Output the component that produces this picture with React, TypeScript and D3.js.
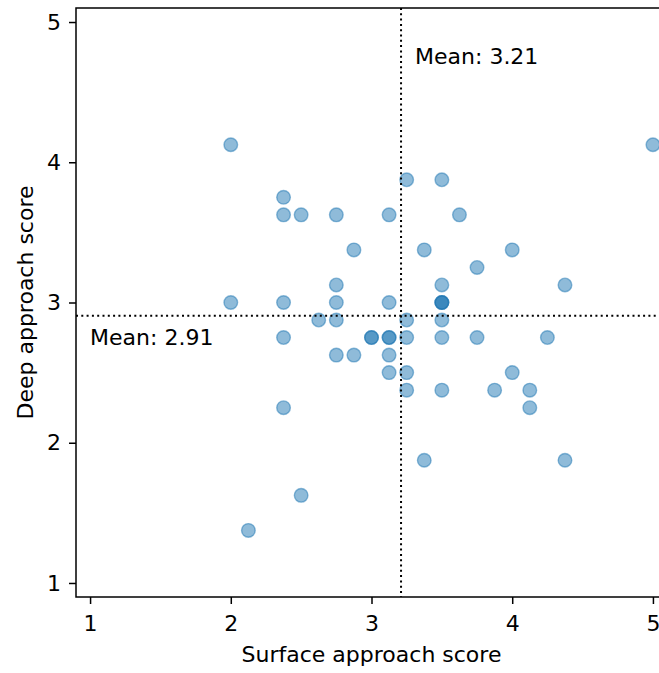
import { useEffect, useRef } from 'react';
import * as d3 from 'd3';

// surface / deep approach scores, one entry per student (repeats are overlapping dots)
const surfaceScores = [
  2, 5, 2.375, 3.25, 3.5, 2.375, 2.5, 2.75, 3.125, 3.625,
  2.875, 3.375, 4, 3.75, 2.75, 3.5, 4.375, 2, 2.375, 2.75,
  3.125, 3.5, 3.5, 3.5, 2.625, 2.75, 3.25, 3.5, 2.375, 3, 3,
  3.125, 3.125, 3.25, 3.5, 3.75, 4.25, 2.75, 2.875, 3.125, 3.125,
  3.25, 4, 3.25, 3.5, 3.875, 4.125, 2.375, 4.125, 3.375, 4.375,
  2.5, 2.125,
];
const deepScores = [
  4.125, 4.125, 3.75, 3.875, 3.875, 3.625, 3.625, 3.625, 3.625, 3.625,
  3.375, 3.375, 3.375, 3.25, 3.125, 3.125, 3.125, 3, 3, 3,
  3, 3, 3, 3, 2.875, 2.875, 2.875, 2.875, 2.75, 2.75, 2.75,
  2.75, 2.75, 2.75, 2.75, 2.75, 2.75, 2.625, 2.625, 2.625, 2.5,
  2.5, 2.5, 2.375, 2.375, 2.375, 2.375, 2.25, 2.25, 1.875, 1.875,
  1.625, 1.375,
];
const tickValues = [1, 2, 3, 4, 5];

function App() {
  const svgRef = useRef<SVGSVGElement>(null);

  useEffect(() => {
    if (!svgRef.current) return;
    const svg = d3.select(svgRef.current);
    svg.selectAll('*').remove();

    const width = 659;
    const height = 673;
    const left = 76, top = 8, right = 667, bottom = 597;
    const font = 'DejaVu Sans, sans-serif';
    const blue = '#1f77b4';

    const x = d3.scaleLinear().domain([0.9, 5.1]).range([left, right]);
    const y = d3.scaleLinear().domain([0.9, 5.1]).range([bottom, top]);

    svg.attr('width', width).attr('height', height);

    const points = surfaceScores.map((s, i) => ({ s, d: deepScores[i] }));
    const meanS = d3.mean(surfaceScores) || 0;
    const meanD = d3.mean(deepScores) || 0;

    // dots
    svg.append('g')
      .selectAll('circle')
      .data(points)
      .enter()
      .append('circle')
      .attr('cx', p => x(p.s))
      .attr('cy', p => y(p.d))
      .attr('r', 6.8)
      .attr('fill', blue)
      .attr('fill-opacity', 0.5)
      .attr('stroke', blue)
      .attr('stroke-opacity', 0.5)
      .attr('stroke-width', 1.4);

    // mean lines
    svg.append('line')
      .attr('x1', x(meanS)).attr('x2', x(meanS))
      .attr('y1', top).attr('y2', bottom)
      .attr('stroke', '#000').attr('stroke-width', 2)
      .attr('stroke-dasharray', '2,3.3');
    svg.append('line')
      .attr('x1', left).attr('x2', right)
      .attr('y1', y(meanD)).attr('y2', y(meanD))
      .attr('stroke', '#000').attr('stroke-width', 2)
      .attr('stroke-dasharray', '2,3.3');

    svg.append('text')
      .attr('x', x(meanS) + 14)
      .attr('y', 64)
      .attr('font-family', font).attr('font-size', 22)
      .text(`Mean: ${meanS.toFixed(2)}`);
    svg.append('text')
      .attr('x', x(1))
      .attr('y', y(meanD) + 29)
      .attr('font-family', font).attr('font-size', 22)
      .text(`Mean: ${meanD.toFixed(2)}`);

    // axes
    const xAxis = svg.append('g')
      .attr('transform', `translate(0,${bottom})`)
      .call(d3.axisBottom(x).tickValues(tickValues).tickFormat(d3.format('d')).tickSize(7).tickPadding(11));
    const yAxis = svg.append('g')
      .attr('transform', `translate(${left},0)`)
      .call(d3.axisLeft(y).tickValues(tickValues).tickFormat(d3.format('d')).tickSize(7).tickPadding(8));
    [xAxis, yAxis].forEach(ax => {
      ax.select('.domain').remove();
      ax.selectAll('line').attr('stroke', '#000').attr('stroke-width', 1.5);
      ax.selectAll('text')
        .attr('font-family', font)
        .attr('font-size', 22)
        .attr('fill', '#000');
    });

    // spines
    svg.append('rect')
      .attr('x', left).attr('y', top)
      .attr('width', right - left).attr('height', bottom - top)
      .attr('fill', 'none').attr('stroke', '#000').attr('stroke-width', 1.5);

    svg.append('text')
      .attr('x', (left + right) / 2)
      .attr('y', 662)
      .attr('text-anchor', 'middle')
      .attr('font-family', font).attr('font-size', 22)
      .text('Surface approach score');
    svg.append('text')
      .attr('transform', `translate(33,${(top + bottom) / 2}) rotate(-90)`)
      .attr('text-anchor', 'middle')
      .attr('font-family', font).attr('font-size', 22)
      .text('Deep approach score');
  }, []);

  return (
    <svg ref={svgRef} style={{ position: 'absolute', left: 0, top: 0, background: '#fff' }} />
  );
}

export default App;
